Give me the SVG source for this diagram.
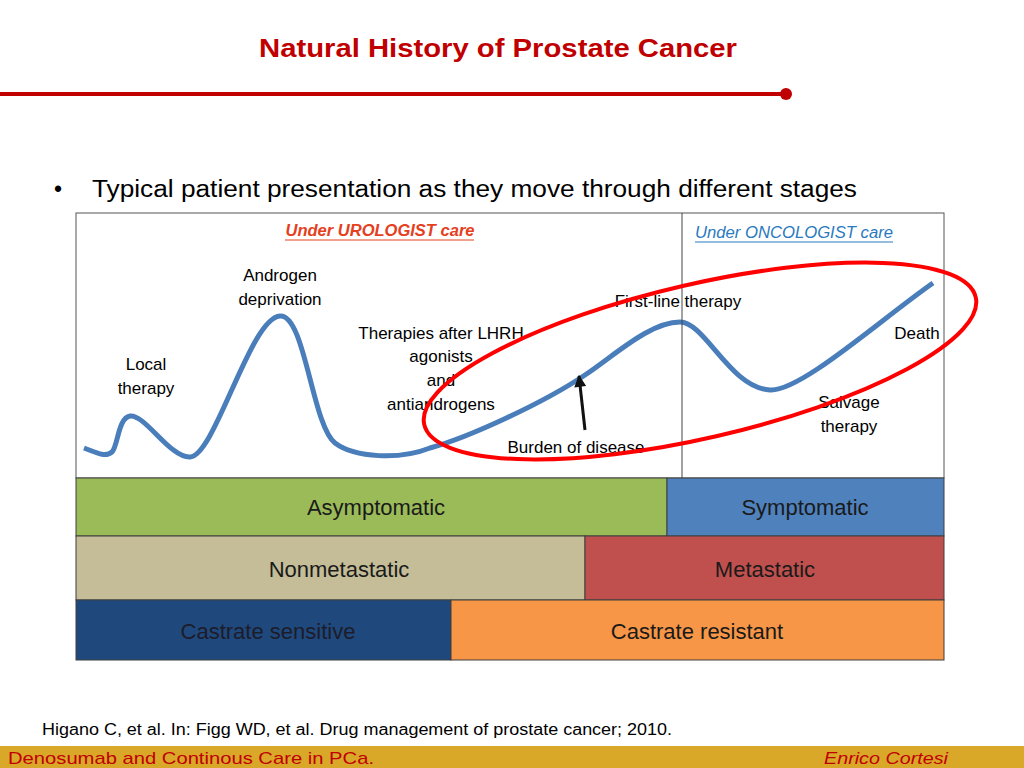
<svg xmlns="http://www.w3.org/2000/svg" width="1024" height="768" viewBox="0 0 1024 768">
<defs>
<style>
.t{font-family:"Liberation Sans",Arial,sans-serif;fill:#000}
.lbl{font-size:17px;text-anchor:middle}
.bar{stroke:#3f3f3f;stroke-width:1}
.bt{font-family:"Liberation Sans",Arial,sans-serif;font-size:22px;text-anchor:middle;fill:#1a1a1a}
</style>
<marker id="ah" viewBox="0 0 10 10" refX="9" refY="5" markerWidth="5" markerHeight="4" orient="auto" markerUnits="strokeWidth">
<path d="M0,0 L10,5 L0,10 z" fill="#111"/>
</marker>
</defs>
<rect width="1024" height="768" fill="#fff"/>

<g id="title">
<text x="498" y="57" class="t" font-size="26" font-weight="bold" style="fill:#C00000" text-anchor="middle" textLength="478" lengthAdjust="spacingAndGlyphs">Natural History of Prostate Cancer</text>
<line x1="0" y1="94" x2="786" y2="94" stroke="#C00000" stroke-width="4"/>
<circle cx="786" cy="94" r="6" fill="#C00000"/>
</g>

<g id="bullet">
<text x="54" y="197" class="t" font-size="23">•</text>
<text x="92" y="197" class="t" font-size="23" textLength="765" lengthAdjust="spacingAndGlyphs">Typical patient presentation as they move through different stages</text>
</g>

<g id="chart-frame">
<rect x="76" y="213" width="868" height="265" fill="#fff" stroke="#555" stroke-width="1"/>
</g>

<g id="labels">
<text x="380" y="236" class="t" font-size="16" font-weight="bold" font-style="italic" style="fill:#E5401E" text-anchor="middle" textLength="189" lengthAdjust="spacingAndGlyphs">Under UROLOGIST care</text>
<line x1="285" y1="240" x2="474" y2="240" stroke="#E5401E" stroke-width="1"/>
<text x="794" y="238" class="t" font-size="16" font-style="italic" style="fill:#2A7AC0" text-anchor="middle" textLength="198" lengthAdjust="spacingAndGlyphs">Under ONCOLOGIST care</text>
<line x1="695" y1="242" x2="893" y2="242" stroke="#2A7AC0" stroke-width="1"/>
<g id="lbl-local"><text class="t lbl" x="146" y="370">Local</text><text class="t lbl" x="146" y="394">therapy</text></g>
<g id="lbl-androgen"><text class="t lbl" x="280" y="281">Androgen</text><text class="t lbl" x="280" y="305">deprivation</text></g>
<g id="lbl-lhrh"><text class="t lbl" x="441" y="339">Therapies after LHRH</text><text class="t lbl" x="441" y="362">agonists</text><text class="t lbl" x="441" y="386">and</text><text class="t lbl" x="441" y="410">antiandrogens</text></g>
<g id="lbl-firstline"><text class="t lbl" x="678" y="307">First-line therapy</text></g>
<g id="lbl-death"><text class="t lbl" x="917" y="339">Death</text></g>
<g id="lbl-salvage"><text class="t lbl" x="849" y="408">Salvage</text><text class="t lbl" x="849" y="432">therapy</text></g>
<g id="lbl-burden"><text class="t lbl" x="576" y="453">Burden of disease</text></g>
</g>

<g id="bars">
<g id="asymptomatic"><rect class="bar" x="76" y="478" width="591" height="58" fill="#9BBB59"/><text class="bt" x="376" y="515">Asymptomatic</text></g>
<g id="symptomatic"><rect class="bar" x="667" y="478" width="277" height="58" fill="#4F81BD"/><text class="bt" x="805" y="515">Symptomatic</text></g>
<g id="nonmetastatic"><rect class="bar" x="76" y="536" width="509" height="64" fill="#C4BD97"/><text class="bt" x="339" y="577">Nonmetastatic</text></g>
<g id="metastatic"><rect class="bar" x="585" y="536" width="359" height="64" fill="#C0504D"/><text class="bt" x="765" y="577">Metastatic</text></g>
<g id="castrate-sensitive"><rect class="bar" x="76" y="600" width="375" height="60" fill="#1F497D"/><text class="bt" x="268" y="639" style="fill:#1c1c2a">Castrate sensitive</text></g>
<g id="castrate-resistant"><rect class="bar" x="451" y="600" width="493" height="60" fill="#F79646"/><text class="bt" x="697" y="639">Castrate resistant</text></g>
</g>

<g id="connectors">
<path d="M84,448 C95,452 105,458 112,452 C118,446 118,418 130,416 C145,414 170,458 190,457 C215,456 250,318 280,316 C305,314 312,425 335,443 C355,458 400,460 430,448 C470,437 545,402 585,375 C615,355 650,322 680,322 C705,322 730,388 770,390 C800,392 880,320 933,283" fill="none" stroke="#4A7EBB" stroke-width="5" stroke-linecap="butt"/>
<line x1="682" y1="213" x2="682" y2="478" stroke="#444" stroke-width="1"/>
<line x1="585" y1="430" x2="579" y2="376" stroke="#111" stroke-width="3" marker-end="url(#ah)"/>
<ellipse cx="700" cy="361" rx="283" ry="77" transform="rotate(-13 700 361)" fill="none" stroke="#FF0000" stroke-width="4"/>
</g>

<g id="footer">
<text x="42" y="735" class="t" font-size="16" textLength="630" lengthAdjust="spacingAndGlyphs">Higano C, et al. In: Figg WD, et al. Drug management of prostate cancer; 2010.</text>
<rect x="0" y="746" width="1024" height="22" fill="#D9A829"/>
<text x="8" y="764" class="t" font-size="17" style="fill:#C00000" textLength="366" lengthAdjust="spacingAndGlyphs">Denosumab and Continous Care in PCa.</text>
<text x="948" y="764" class="t" font-size="17" font-style="italic" style="fill:#C00000" text-anchor="end" textLength="124" lengthAdjust="spacingAndGlyphs">Enrico Cortesi</text>
</g>
</svg>
